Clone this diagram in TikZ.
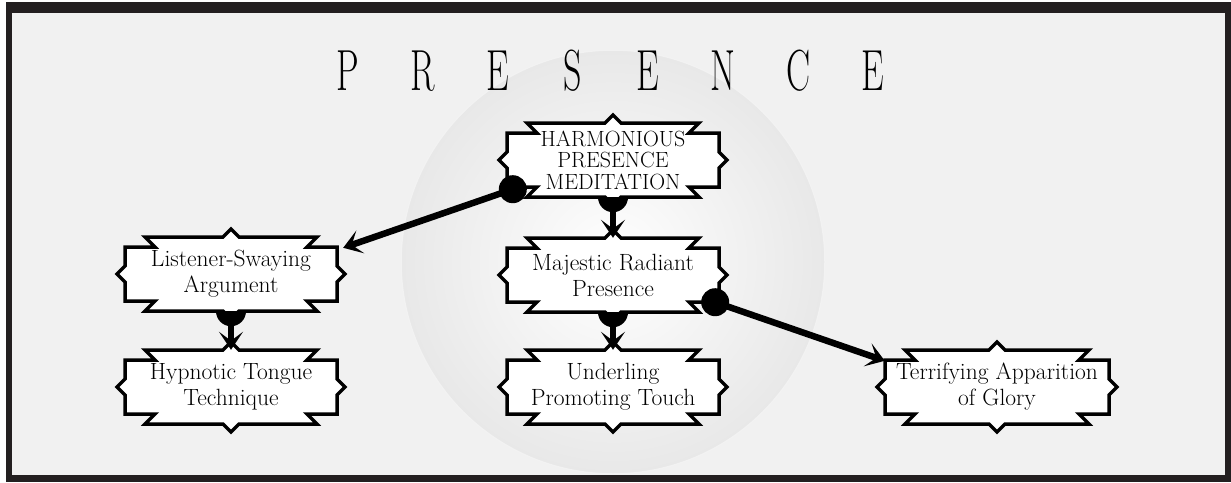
\documentclass[tikz,border=0pt]{standalone}
\usetikzlibrary{arrows.meta,calc}
\definecolor{paper}{HTML}{F1F1F1}
\definecolor{frame}{HTML}{231F20}
\tikzset{
  boxline/.style={draw=black, fill=white, line width=3.5pt, line join=miter},
  boxtext/.style={font=\fontsize{23.5}{26}\selectfont, align=center, inner sep=0pt, minimum height=74pt},
  captext/.style={font=\fontsize{22}{21.5}\selectfont},
  conn/.style={line width=6.5pt, -{Stealth[length=18pt,width=24pt,inset=9pt]}},
  knob/.style={fill=black},
  titlechar/.style={font=\fontsize{58}{58}\selectfont, inner sep=0pt, anchor=base},
}
\newcommand\fancybox[5][]{%
  \begin{scope}[shift={#3}]
    \def\bxW{#4}
    \filldraw[boxline] (0,-45) -- (8,-37) -- ({\bxW-20},-37) -- ({\bxW-30},-27) -- (\bxW,-27) -- (\bxW,-8) -- ({\bxW+8},0) -- (\bxW,8) -- (\bxW,27) -- ({\bxW-30},27) -- ({\bxW-20},37) -- (8,37) -- (0,45) -- (-8,37) -- ({-\bxW+20},37) -- ({-\bxW+30},27) -- (-\bxW,27) -- (-\bxW,8) -- ({-\bxW-8},0) -- (-\bxW,-8) -- (-\bxW,-27) -- ({-\bxW+30},-27) -- ({-\bxW+20},-37) -- (-8,-37) -- cycle;
  \end{scope}
  \node[boxtext, minimum width={2*#4}, #1] (#2) at #3 {#5};
}
\begin{document}
\begin{tikzpicture}[x=1pt,y=-1pt]
\useasboundingbox (0,0) rectangle (1231,482);
% frame and paper
\fill[white] (0,0) rectangle (1231,482);
\fill[frame] (6,2) rectangle (1231,482);
\fill[paper] (12,13) rectangle (1225,475);
% background disc
\shade[inner color=white, outer color=black!9] (613,262) circle[radius=212];
\draw[black!5, line width=1.5pt] (613,262) circle[radius=212];
% title
\foreach \l [count=\i from 0] in {P,R,E,S,E,N,C,E}
  \node[titlechar] (t\i) at ({348+75*\i},90) {\scalebox{0.62}[1]{\l}};
% boxes
\fancybox[captext]{hpm}{(613,160)}{106}{HARMONIOUS\\PRESENCE\\MEDITATION}
\fancybox{mrp}{(613,275)}{106}{Majestic Radiant\\Presence}
\fancybox{upt}{(613,387)}{106}{Underling\\Promoting Touch}
\fancybox{lsa}{(231,274)}{106}{Listener-Swaying\\Argument}
\fancybox{htt}{(231,387)}{106}{Hypnotic Tongue\\Technique}
\fancybox{tag}{(997,387)}{112}{Terrifying Apparition\\of Glory}
% connectors
\fill[knob] (hpm.south) ++(-15,0) arc[start angle=180, end angle=0, radius=15] -- cycle;
\draw[conn] (hpm.south) -- (mrp.north);
\fill[knob] (mrp.south) ++(-15,0) arc[start angle=180, end angle=0, radius=15] -- cycle;
\draw[conn] (mrp.south) -- (upt.north);
\fill[knob] (lsa.south) ++(-15,0) arc[start angle=180, end angle=0, radius=15] -- cycle;
\draw[conn] (lsa.south) -- (htt.north);
\coordinate (k1) at ($(hpm.south west)+(6,-8)$);
\coordinate (e1) at ($(lsa.north east)+(6,11)$);
\fill[knob] (k1) circle[radius=14];
\draw[conn] (k1) -- (e1);
\coordinate (k2) at ($(mrp.south east)+(-4,-10)$);
\coordinate (e2) at ($(tag.north west)+(0,11)$);
\fill[knob] (k2) circle[radius=14];
\draw[conn] (k2) -- (e2);
\end{tikzpicture}
\end{document}
